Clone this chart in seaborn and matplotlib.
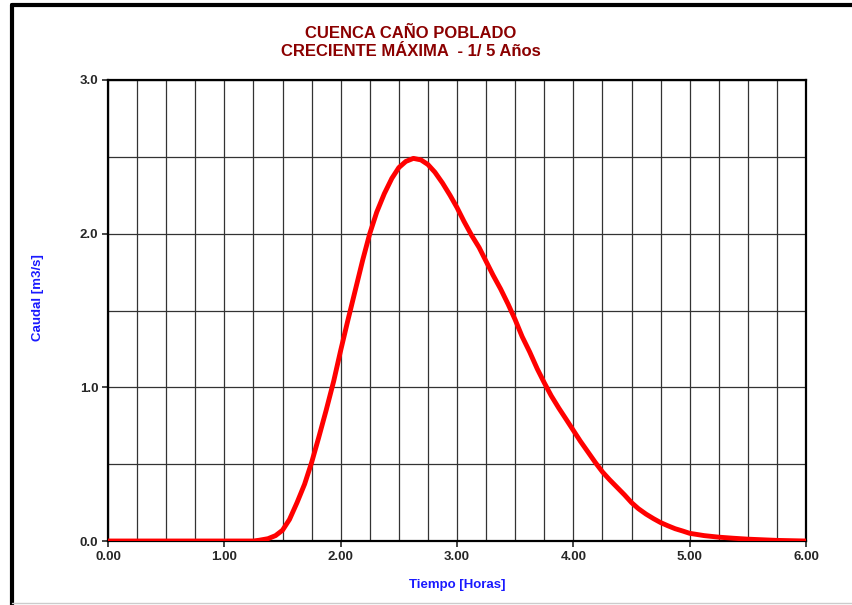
import numpy as np
import pandas as pd
import seaborn as sns
import matplotlib.pyplot as plt
from matplotlib.lines import Line2D
from matplotlib.ticker import MultipleLocator

sns.set_style("white")
plt.rcParams['font.family'] = ['Liberation Sans', 'DejaVu Sans']

# Hidrograma
tiempo = [0.0, 0.25, 0.5, 0.75, 1.0, 1.25, 1.3, 1.375, 1.44, 1.5, 1.56, 1.625,
          1.69, 1.75, 1.81, 1.875, 1.94, 2.0, 2.06, 2.125, 2.19, 2.25, 2.31,
          2.375, 2.44, 2.5, 2.56, 2.625, 2.69, 2.75, 2.81, 2.875, 2.94, 3.0,
          3.06, 3.125, 3.19, 3.25, 3.31, 3.375, 3.44, 3.5, 3.56, 3.625, 3.69,
          3.75, 3.81, 3.875, 3.94, 4.0, 4.06, 4.125, 4.19, 4.25, 4.31, 4.375,
          4.44, 4.5, 4.56, 4.625, 4.69, 4.75, 4.81, 4.875, 4.94, 5.0, 5.125,
          5.25, 5.375, 5.5, 5.625, 5.75, 6.0]
caudal = [0.0, 0.0, 0.0, 0.0, 0.0, 0.0, 0.005, 0.015, 0.035, 0.07, 0.14, 0.25,
          0.37, 0.51, 0.67, 0.85, 1.04, 1.24, 1.43, 1.63, 1.83, 2.0, 2.14,
          2.26, 2.36, 2.43, 2.47, 2.49, 2.48, 2.45, 2.40, 2.33, 2.25, 2.17,
          2.08, 1.99, 1.91, 1.82, 1.73, 1.64, 1.54, 1.44, 1.33, 1.23, 1.12,
          1.03, 0.945, 0.865, 0.79, 0.72, 0.65, 0.58, 0.51, 0.45, 0.40, 0.35,
          0.30, 0.25, 0.21, 0.175, 0.145, 0.12, 0.10, 0.08, 0.065, 0.05, 0.035,
          0.025, 0.018, 0.012, 0.008, 0.004, 0.0]
x_ticks = [0, 1, 2, 3, 4, 5, 6]
y_ticks = [0, 1, 2, 3]

df = pd.DataFrame({'Tiempo': tiempo, 'Caudal': caudal})

fig = plt.figure(figsize=(8.52, 6.05), dpi=100)
ax = fig.add_axes([108 / 852, 64 / 605, 698 / 852, 461 / 605])

sns.lineplot(data=df, x='Tiempo', y='Caudal', ax=ax, color='#ff0000',
             linewidth=3.5, zorder=5, solid_joinstyle='round', solid_capstyle='round')

ax.set_xlim(0, 6)
ax.set_ylim(0, 3)
ax.set_xticks(x_ticks)
ax.set_xticklabels([f"{v:.2f}" for v in x_ticks], fontweight='bold', fontsize=9.5)
ax.set_yticks(y_ticks)
ax.set_yticklabels([f"{v:.1f}" for v in y_ticks], fontweight='bold', fontsize=9.5)
ax.xaxis.set_minor_locator(MultipleLocator(0.25))
ax.yaxis.set_minor_locator(MultipleLocator(0.5))
ax.grid(True, which='both', color='#333333', linewidth=0.9)
ax.tick_params(axis='both', which='major', direction='out', length=4, width=1.2,
               bottom=True, left=True, pad=3)
ax.tick_params(axis='both', which='minor', length=0)
for s in ax.spines.values():
    s.set_color('black')
    s.set_linewidth(1.6)

ax.set_xlabel('Tiempo [Horas]', color='#1a1aff', fontweight='bold', fontsize=9.5, labelpad=12)
ax.set_ylabel('')
fig.text(38 / 852, 1 - 298 / 605, 'Caudal [m3/s]', color='#1a1aff', fontweight='bold',
         fontsize=9.5, rotation=90, ha='center', va='center')

fig.text(411 / 852, 1 - 33 / 605, 'CUENCA CAÑO POBLADO', color='#8b0000',
         fontweight='bold', fontsize=12, ha='center', va='center')
fig.text(411 / 852, 1 - 52 / 605, 'CRECIENTE MÁXIMA  - 1/ 5 Años', color='#8b0000',
         fontweight='bold', fontsize=12, ha='center', va='center')

# Marco del grafico
fig.add_artist(Line2D([12 / 852, 12 / 852], [0, 1 - 5 / 605], color='black',
                      linewidth=3, transform=fig.transFigure))
fig.add_artist(Line2D([12 / 852, 1], [1 - 5 / 605, 1 - 5 / 605], color='black',
                      linewidth=3, transform=fig.transFigure))
fig.add_artist(Line2D([12 / 852, 1], [2 / 605, 2 / 605], color='#cccccc',
                      linewidth=1, transform=fig.transFigure))

fig.savefig('out.png', dpi=100)
